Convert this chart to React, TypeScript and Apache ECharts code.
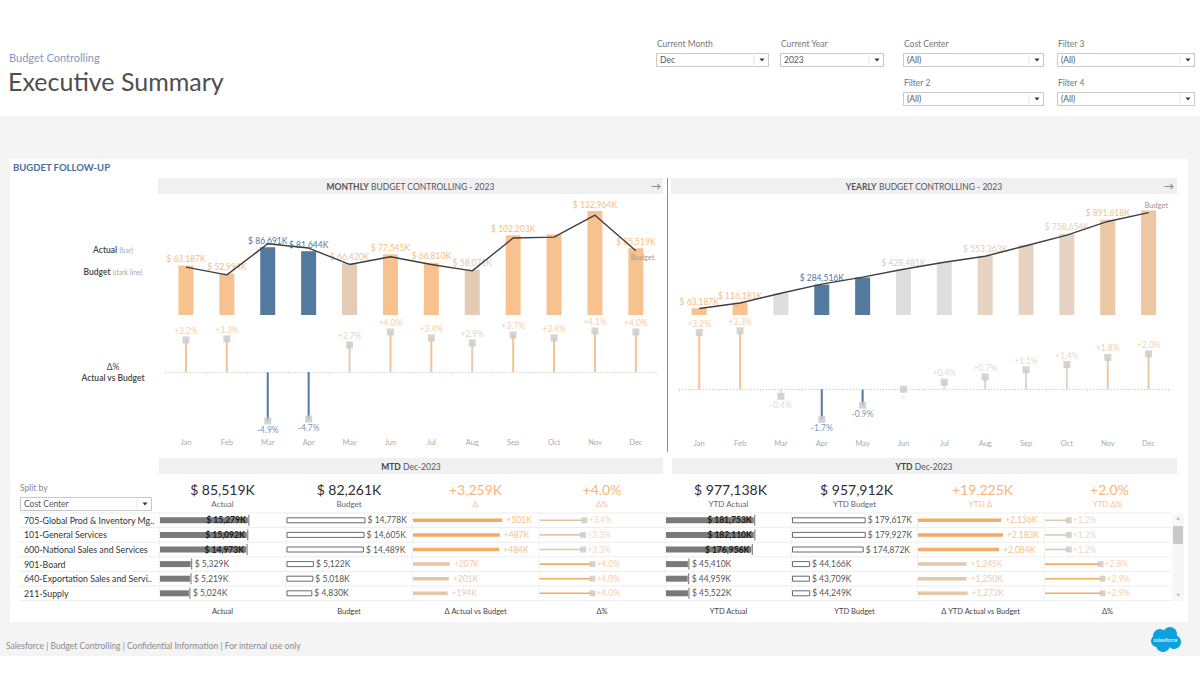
import React, { useEffect, useRef } from "react";
import * as echarts from "echarts";

const FONT = "Lato, 'Open Sans', sans-serif";

const months = ["Jan", "Feb", "Mar", "Apr", "May", "Jun", "Jul", "Aug", "Sep", "Oct", "Nov", "Dec"];
const monthlyActual = [63187, 52994, 86691, 81644, 66420, 77545, 66810, 58071, 102203, 103089, 132964, 85519];
const monthlyBudget = [61228, 51301, 91158, 85670, 64674, 74563, 64613, 56434, 98556, 99699, 127727, 82261];
const monthlyDeltaPct = [3.2, 3.3, -4.9, -4.7, 2.7, 4.0, 3.4, 2.9, 3.7, 3.4, 4.1, 4.0];
const monthlyLabelShown = [true, true, true, true, true, true, true, true, true, false, true, true];

const ytdActual = [63187, 116181, 202872, 284516, 350936, 428481, 495291, 553363, 655566, 758654, 891618, 977138];
const ytdBudget = [61228, 112529, 203687, 289357, 354031, 428594, 493207, 549641, 648197, 747896, 875623, 957912];
const ytdDeltaPct = [3.2, 3.3, -0.4, -1.7, -0.9, 0.0, 0.4, 0.7, 1.1, 1.4, 1.8, 2.0];
const ytdLabelShown = [true, true, false, true, false, true, false, true, false, true, true, false];

const costCenters = [
  "705-Global Prod & Inventory Mg..",
  "101-General Services",
  "600-National Sales and Services",
  "901-Board",
  "640-Exportation Sales and Servi..",
  "211-Supply",
];
const mtdActual = [15279, 15092, 14973, 5329, 5219, 5024];
const mtdBudget = [14778, 14605, 14489, 5122, 5018, 4830];
const mtdDelta = [501, 487, 484, 207, 201, 194];
const mtdDeltaPct = [3.4, 3.3, 3.3, 4.0, 4.0, 4.0];
const ytdCcActual = [181753, 182110, 176956, 45410, 44959, 45522];
const ytdCcBudget = [179617, 179927, 174872, 44166, 43709, 44249];
const ytdCcDelta = [2136, 2183, 2084, 1245, 1250, 1273];
const ytdCcDeltaPct = [1.2, 1.2, 1.2, 2.8, 2.9, 2.9];

const mtdTotals = [85519, 82261, 3259, 4.0];
const ytdTotals = [977138, 957912, 19225, 2.0];
const mtdKpiLabels = ["Actual", "Budget", "Δ", "Δ%"];
const ytdKpiLabels = ["YTD Actual", "YTD Budget", "YTD Δ", "YTD Δ%"];
const mtdColLabels = ["Actual", "Budget", "Δ Actual vs Budget", "Δ%"];
const ytdColLabels = ["YTD Actual", "YTD Budget", "Δ YTD Actual vs Budget", "Δ%"];

const filters = [
  { label: "Current Month", value: "Dec" },
  { label: "Current Year", value: "2023" },
  { label: "Cost Center", value: "(All)" },
  { label: "Filter 3", value: "(All)" },
  { label: "Filter 2", value: "(All)" },
  { label: "Filter 4", value: "(All)" },
];

// ---------- formatting & colours ----------
const fmtK = (v: number) => "$ " + v.toLocaleString("en-US") + "K";
const fmtDK = (v: number) => (v > 0 ? "+" : "") + v.toLocaleString("en-US") + "K";
const fmtPct = (v: number) => (v === 0 ? "=" : (v > 0 ? "+" : "") + v.toFixed(1) + "%");

const BLUE = "#53799F";
const ORANGE = "#F8C28F";
function monthlyBarColor(d: number) {
  if (d < 0) return BLUE;
  if (d < 3) return "#E4CCB4";
  return ORANGE;
}
function monthlyLabelColor(d: number) {
  if (d < 0) return "#4F78A3";
  if (d < 3) return "#E2C6AA";
  return "#F7BC84";
}
function yearlyBarColor(d: number) {
  if (d <= -0.5) return BLUE;
  if (d < 0.5) return "#DEDEDE";
  if (d < 1.5) return "#E6D3C1";
  if (d < 3) return "#EDC7A3";
  return ORANGE;
}
function yearlyLabelColor(d: number) {
  if (d <= -0.5) return "#4F78A3";
  if (d < 0.5) return "#CFCFCF";
  if (d < 1.5) return "#E6CCB4";
  if (d < 3) return "#EDC29A";
  return "#F7BC84";
}
function hex(c: string) {
  return [1, 3, 5].map((i) => parseInt(c.slice(i, i + 2), 16));
}
function lerpColor(a: string, b: string, t: number) {
  const A = hex(a), B = hex(b);
  const r = A.map((x, i) => Math.round(x + (B[i] - x) * t));
  return "rgb(" + r.join(",") + ")";
}
function relT(values: number[], v: number) {
  const mn = Math.min(...values), mx = Math.max(...values);
  return mx === mn ? 1 : (v - mn) / (mx - mn);
}

// ---------- layout ----------
const MONTHLY_X = { left: 165.5, width: 490.8 };
const YEARLY_X = { left: 678.8, width: 490.2 };
const TABLE_TOP = 513;
const ROW_H = 14.6;
const MTD_COLS = [160, 286.5, 413, 539.5];
const YTD_COLS = [666, 792, 918, 1045];
const COL_W = 123;

function App() {
  const ref = useRef<HTMLDivElement>(null);

  useEffect(() => {
    if (!ref.current) return;
    const chart = echarts.init(ref.current, undefined, { renderer: "svg" });

    const txt = (x: number, y: number, text: string, o: any = {}) => ({
      type: "text",
      x,
      y,
      silent: true,
      z: o.z ?? 10,
      style: {
        text,
        fontFamily: FONT,
        fontSize: o.size ?? 9,
        fontWeight: o.weight ?? "normal",
        fill: o.color ?? "#555",
        textAlign: o.align ?? "left",
        textVerticalAlign: "middle",
        rich: o.rich,
      },
    });
    const rect = (x: number, y: number, w: number, h: number, fill: string, stroke?: string, z = 1) => ({
      type: "rect",
      silent: true,
      z,
      shape: { x, y, width: w, height: h },
      style: { fill, stroke: stroke ?? "none", lineWidth: 1 },
    });
    const line = (x1: number, y1: number, x2: number, y2: number, stroke: string, dash?: number[], z = 2) => ({
      type: "line",
      silent: true,
      z,
      shape: { x1, y1, x2, y2 },
      style: { stroke, lineWidth: 1, lineDash: dash },
    });
    const tri = (cx: number, cy: number) => ({
      type: "polygon",
      silent: true,
      z: 11,
      shape: { points: [[cx - 2.5, cy - 1.5], [cx + 2.5, cy - 1.5], [cx, cy + 1.5]] },
      style: { fill: "#333" },
    });
    const dropdown = (x: number, y: number, w: number, value: string) => [
      rect(x + 0.5, y + 0.5, w, 13, "#fff", "#C8C8C8", 5),
      txt(x + 4, y + 7, value, { size: 8.5, color: "#555" }),
      line(x + w - 14, y + 2, x + w - 14, y + 12, "#e6e6e6", undefined, 6),
      tri(x + w - 6, y + 7),
    ];

    const filterPos = [
      { x: 656, y: 53, w: 112, ly: 44 },
      { x: 780, y: 53, w: 103, ly: 44 },
      { x: 903, y: 53, w: 140, ly: 44 },
      { x: 1057, y: 53, w: 137, ly: 44 },
      { x: 903, y: 92, w: 140, ly: 83 },
      { x: 1057, y: 92, w: 137, ly: 83 },
    ];

    const graphics: any[] = [
      rect(0, 116, 1200, 540, "#F4F4F4", undefined, -20),
      rect(10, 159, 1178, 463, "#FFFFFF", undefined, -19),
      txt(9, 57.5, "Budget Controlling", { size: 11, color: "#7B9CC3" }),
      txt(8, 81, "Executive Summary", { size: 25, color: "#4F4F4F" }),
      txt(13, 167, "BUGDET FOLLOW-UP", { size: 9.5, weight: "bold", color: "#4A6F9A" }),
      // left legends
      txt(113, 250, "{a|Actual} {b|(bar)}", {
        align: "center",
        rich: {
          a: { fontSize: 8.5, fontFamily: FONT, fill: "#444", fontWeight: 600 },
          b: { fontSize: 7, fontFamily: FONT, fill: "#AAA" },
        },
      }),
      txt(113, 271.5, "{a|Budget} {b|(dark line)}", {
        align: "center",
        rich: {
          a: { fontSize: 8.5, fontFamily: FONT, fill: "#444", fontWeight: 600 },
          b: { fontSize: 7, fontFamily: FONT, fill: "#AAA" },
        },
      }),
      txt(113, 366.5, "Δ%", { size: 8.5, color: "#444", align: "center" }),
      txt(113, 377.5, "Actual vs Budget", { size: 8.5, color: "#444", align: "center", weight: 600 }),
      // chart headers
      rect(158, 178, 505, 16, "#F0F0F0"),
      txt(410.5, 186.5, "{b|MONTHLY} BUDGET CONTROLLING - 2023", {
        align: "center",
        size: 8.5,
        color: "#555",
        rich: { b: { fontSize: 8.5, fontFamily: FONT, fill: "#555", fontWeight: "bold" } },
      }),
      txt(656, 186, "→", { size: 10, color: "#777", align: "center" }),
      rect(671, 178, 506, 16, "#F0F0F0"),
      txt(924, 186.5, "{b|YEARLY} BUDGET CONTROLLING - 2023", {
        align: "center",
        size: 8.5,
        color: "#555",
        rich: { b: { fontSize: 8.5, fontFamily: FONT, fill: "#555", fontWeight: "bold" } },
      }),
      txt(1169, 186, "→", { size: 10, color: "#777", align: "center" }),
      line(667.5, 178, 667.5, 452, "#8C8C8C"),
      // MTD / YTD headers
      rect(159, 458, 504, 16, "#F0F0F0"),
      txt(411, 466.5, "{b|MTD} Dec-2023", {
        align: "center",
        size: 8.5,
        color: "#555",
        rich: { b: { fontSize: 8.5, fontFamily: FONT, fill: "#444", fontWeight: "bold" } },
      }),
      rect(672, 458, 505, 16, "#F0F0F0"),
      txt(924, 466.5, "{b|YTD} Dec-2023", {
        align: "center",
        size: 8.5,
        color: "#555",
        rich: { b: { fontSize: 8.5, fontFamily: FONT, fill: "#444", fontWeight: "bold" } },
      }),
      // split by
      txt(20, 488, "Split by", { size: 8.5, color: "#888" }),
      ...dropdown(20, 497, 131, "Cost Center"),
      // scrollbar
      rect(1172, 514, 12, 87, "#F7F7F7"),
      rect(1173, 526, 10, 18, "#C9C9C9"),
      txt(1178, 520, "˄", { size: 8, color: "#777", align: "center" }),
      txt(1178, 596, "˅", { size: 8, color: "#777", align: "center" }),
      // footer
      txt(6, 645.5, "Salesforce | Budget Controlling | Confidential Information | For internal use only", {
        size: 8.5,
        color: "#8A8A8A",
      }),
      // salesforce logo (cloud)
      { type: "circle", silent: true, z: 5, shape: { cx: 1160, cy: 636, r: 7 }, style: { fill: "#0DA1DD" } },
      { type: "circle", silent: true, z: 5, shape: { cx: 1170, cy: 634, r: 7 }, style: { fill: "#0DA1DD" } },
      { type: "circle", silent: true, z: 5, shape: { cx: 1174, cy: 642, r: 7 }, style: { fill: "#0DA1DD" } },
      { type: "circle", silent: true, z: 5, shape: { cx: 1163, cy: 645, r: 7 }, style: { fill: "#0DA1DD" } },
      { type: "circle", silent: true, z: 5, shape: { cx: 1157, cy: 641, r: 6 }, style: { fill: "#0DA1DD" } },
      txt(1165.5, 640, "salesforce", { size: 5.5, color: "#FFFFFF", align: "center", z: 6 }),
    ];

    filters.forEach((f, i) => {
      const p = filterPos[i];
      graphics.push(txt(p.x + 1, p.ly, f.label, { size: 8.5, color: "#777" }));
      graphics.push(...dropdown(p.x, p.y, p.w, f.value));
    });

    // KPIs
    const kpiCenters = (cols: number[]) => cols.map((c) => c + COL_W / 2 + 1);
    kpiCenters(MTD_COLS).forEach((cx, i) => {
      const v = mtdTotals[i];
      const isDelta = i >= 2;
      const label = i === 0 || i === 1 ? fmtK(v) : i === 2 ? fmtDK(v) : fmtPct(v);
      graphics.push(txt(cx, 489, label, { size: 14, color: isDelta ? "#F6B679" : "#2E2E2E", align: "center" }));
      graphics.push(txt(cx, 504, mtdKpiLabels[i], { size: 8, color: isDelta ? "#F4C193" : "#666", align: "center" }));
      graphics.push(txt(cx, 611.5, mtdColLabels[i], { size: 7.5, color: "#444", align: "center" }));
    });
    kpiCenters(YTD_COLS).forEach((cx, i) => {
      const v = ytdTotals[i];
      const isDelta = i >= 2;
      const label = i === 0 || i === 1 ? fmtK(v) : i === 2 ? fmtDK(v) : fmtPct(v);
      graphics.push(txt(cx + 2, 489, label, { size: 14, color: isDelta ? "#F6B679" : "#2E2E2E", align: "center" }));
      graphics.push(txt(cx, 504, ytdKpiLabels[i], { size: 8, color: isDelta ? "#F4C193" : "#666", align: "center" }));
      graphics.push(txt(cx, 611.5, ytdColLabels[i], { size: 7.5, color: "#444", align: "center" }));
    });

    // table grid lines
    for (let i = 0; i <= costCenters.length; i++) {
      const y = TABLE_TOP + i * ROW_H;
      graphics.push(line(19, y, 1171, y, "#EDEDED", undefined, 0));
    }
    [...MTD_COLS, ...YTD_COLS].forEach((x) => {
      graphics.push(line(x - 0.5, TABLE_TOP, x - 0.5, TABLE_TOP + ROW_H * costCenters.length, "#E2E2E2", [1, 2], 0));
    });

    // ---------- grids & axes ----------
    const grids: any[] = [
      { left: MONTHLY_X.left, width: MONTHLY_X.width, top: 190, height: 125 },
      { left: MONTHLY_X.left, width: MONTHLY_X.width, top: 312, height: 120 },
      { left: YEARLY_X.left, width: YEARLY_X.width, top: 190, height: 125 },
      { left: YEARLY_X.left, width: YEARLY_X.width, top: 318.5, height: 115 },
      ...MTD_COLS.map((l) => ({ left: l, width: COL_W, top: TABLE_TOP, height: ROW_H * costCenters.length })),
      ...YTD_COLS.map((l) => ({ left: l, width: COL_W, top: TABLE_TOP, height: ROW_H * costCenters.length })),
    ];

    const hiddenCat = (gi: number) => ({
      type: "category",
      gridIndex: gi,
      data: months,
      show: false,
    });
    const monthAxis = (gi: number) => ({
      type: "category",
      gridIndex: gi,
      data: months,
      axisLine: { show: false },
      axisTick: { show: true, length: 3, lineStyle: { color: "#EEEEEE" } },
      axisLabel: { color: "#ABABAB", fontSize: 7.5, fontFamily: FONT, margin: 6 },
    });
    const valAxis = (gi: number, min: number, max: number) => ({
      type: "value",
      gridIndex: gi,
      min,
      max,
      show: false,
      splitLine: { show: false },
    });
    const tableMax = [21400, 23000, 690, 9.3, 255000, 300000, 3160, 6.2];

    const xAxes: any[] = [
      hiddenCat(0),
      monthAxis(1),
      hiddenCat(2),
      monthAxis(3),
      ...tableMax.map((m, i) => valAxis(4 + i, 0, m)),
    ];
    const yAxes: any[] = [
      valAxis(0, 0, 160000),
      valAxis(1, -6, 6),
      valAxis(2, 0, 1170000),
      valAxis(3, -2.5, 4),
      ...tableMax.map((_, i) => ({
        type: "category",
        gridIndex: 4 + i,
        data: costCenters,
        inverse: true,
        show: i === 0,
        axisLine: { show: false },
        axisTick: { show: false },
        axisLabel: {
          show: i === 0,
          align: "left",
          margin: 136,
          color: "#333",
          fontSize: 8.8,
          fontFamily: FONT,
        },
      })),
    ];

    // ---------- series ----------
    const series: any[] = [];
    const valueLabel = { fontFamily: FONT, fontSize: 8.5 };

    // monthly bars
    series.push({
      type: "bar",
      xAxisIndex: 0,
      yAxisIndex: 0,
      barWidth: 15,
      data: monthlyActual.map((v, i) => ({
        value: v,
        itemStyle: { color: monthlyBarColor(monthlyDeltaPct[i]) },
        label: {
          show: monthlyLabelShown[i],
          position: "top",
          distance: 2,
          color: monthlyLabelColor(monthlyDeltaPct[i]),
          ...valueLabel,
          formatter: () => fmtK(v),
        },
      })),
    });
    series.push({
      type: "line",
      xAxisIndex: 0,
      yAxisIndex: 0,
      data: monthlyBudget,
      symbol: "none",
      lineStyle: { color: "#3F3F3F", width: 1.4 },
      z: 5,
      endLabel: { show: true, formatter: "Budget", color: "#999", fontSize: 7.5, fontFamily: FONT, offset: [-13, 7] },
    });
    // monthly lollipop
    series.push({
      type: "bar",
      xAxisIndex: 1,
      yAxisIndex: 1,
      barWidth: 2,
      data: monthlyDeltaPct.map((d) => ({ value: d, itemStyle: { color: monthlyBarColor(d) } })),
    });
    series.push({
      type: "scatter",
      xAxisIndex: 1,
      yAxisIndex: 1,
      symbol: "rect",
      symbolSize: 7,
      itemStyle: { color: "#C9C9C9" },
      z: 4,
      data: monthlyDeltaPct.map((d) => ({
        value: d,
        label: {
          show: true,
          position: d > 0 ? "top" : "bottom",
          distance: 1,
          color: monthlyLabelColor(d),
          ...valueLabel,
          formatter: () => fmtPct(d),
        },
      })),
      markLine: {
        silent: true,
        symbol: "none",
        label: { show: false },
        lineStyle: { color: "#BDBDBD", type: [1, 2], width: 1 },
        data: [{ yAxis: 0 }],
      },
    });

    // yearly bars
    series.push({
      type: "bar",
      xAxisIndex: 2,
      yAxisIndex: 2,
      barWidth: 15,
      data: ytdActual.map((v, i) => ({
        value: v,
        itemStyle: { color: yearlyBarColor(ytdDeltaPct[i]) },
        label: {
          show: ytdLabelShown[i],
          position: "top",
          distance: 2,
          color: yearlyLabelColor(ytdDeltaPct[i]),
          ...valueLabel,
          formatter: () => fmtK(v),
        },
      })),
    });
    series.push({
      type: "line",
      xAxisIndex: 2,
      yAxisIndex: 2,
      data: ytdBudget,
      symbol: "none",
      lineStyle: { color: "#3F3F3F", width: 1.4 },
      z: 5,
      endLabel: { show: true, formatter: "Budget", color: "#999", fontSize: 7.5, fontFamily: FONT, offset: [-12, -7] },
    });
    series.push({
      type: "bar",
      xAxisIndex: 3,
      yAxisIndex: 3,
      barWidth: 2,
      data: ytdDeltaPct.map((d) => ({ value: d, itemStyle: { color: yearlyBarColor(d) } })),
    });
    series.push({
      type: "scatter",
      xAxisIndex: 3,
      yAxisIndex: 3,
      symbol: "rect",
      symbolSize: 7,
      itemStyle: { color: "#C9C9C9" },
      z: 4,
      data: ytdDeltaPct.map((d) => ({
        value: d,
        label: {
          show: true,
          position: d > 0 ? "top" : "bottom",
          distance: 1,
          color: yearlyLabelColor(d),
          ...valueLabel,
          formatter: () => fmtPct(d),
        },
      })),
      markLine: {
        silent: true,
        symbol: "none",
        label: { show: false },
        lineStyle: { color: "#BDBDBD", type: [1, 2], width: 1 },
        data: [{ yAxis: 0 }],
      },
    });

    // ---------- table ----------
    const addTable = (base: number, act: number[], bud: number[], dlt: number[], pct: number[]) => {
      const actMax = tableMax[base - 4];
      series.push({
        type: "bar",
        xAxisIndex: base,
        yAxisIndex: base,
        barWidth: 6,
        itemStyle: { color: "#7A7A7A" },
        data: act.map((v) => {
          const inside = v / actMax > 0.5;
          return {
            value: v,
            label: {
              show: true,
              position: inside ? "insideRight" : "right",
              distance: inside ? 2 : 4,
              color: inside ? "#1E1E1E" : "#555",
              fontWeight: inside ? "bold" : "normal",
              ...valueLabel,
              formatter: () => fmtK(v),
            },
          };
        }),
      });
      series.push({
        type: "scatter",
        xAxisIndex: base,
        yAxisIndex: base,
        symbol: "rect",
        symbolSize: [1.2, 11],
        symbolOffset: [1, 0],
        itemStyle: { color: "#666" },
        silent: true,
        data: act.map((v, i) => [v, i]),
      });
      series.push({
        type: "bar",
        xAxisIndex: base + 1,
        yAxisIndex: base + 1,
        barWidth: 6,
        itemStyle: { color: "#FFFFFF", borderColor: "#6A6A6A", borderWidth: 1 },
        label: { show: true, position: "right", distance: 2, color: "#555", ...valueLabel, formatter: (p: any) => fmtK(p.value) },
        data: bud,
      });
      series.push({
        type: "bar",
        xAxisIndex: base + 2,
        yAxisIndex: base + 2,
        barWidth: 3.5,
        data: dlt.map((v) => {
          const t = relT(dlt, v);
          return {
            value: v,
            itemStyle: { color: lerpColor("#E3C7AA", "#F5AA62", t) },
            label: {
              show: true,
              position: "right",
              distance: 4,
              color: lerpColor("#EACCB0", "#F7BE88", t),
              ...valueLabel,
              formatter: () => fmtDK(v),
            },
          };
        }),
      });
      series.push({
        type: "bar",
        xAxisIndex: base + 3,
        yAxisIndex: base + 3,
        barWidth: 1.6,
        data: pct.map((v) => ({ value: v, itemStyle: { color: lerpColor("#E3C7AA", "#F5AA62", relT(pct, v)) } })),
      });
      series.push({
        type: "scatter",
        xAxisIndex: base + 3,
        yAxisIndex: base + 3,
        symbol: "rect",
        symbolSize: 6,
        itemStyle: { color: "#C9C9C9" },
        data: pct.map((v, i) => ({
          value: [v, i],
          label: {
            show: true,
            position: "right",
            distance: 1,
            color: lerpColor("#EACCB0", "#F7BE88", relT(pct, v)),
            ...valueLabel,
            formatter: () => fmtPct(v),
          },
        })),
      });
    };
    addTable(4, mtdActual, mtdBudget, mtdDelta, mtdDeltaPct);
    addTable(8, ytdCcActual, ytdCcBudget, ytdCcDelta, ytdCcDeltaPct);

    chart.setOption({
      animation: false,
      backgroundColor: "#FFFFFF",
      textStyle: { fontFamily: FONT },
      grid: grids,
      xAxis: xAxes,
      yAxis: yAxes,
      series,
      graphic: { elements: graphics },
    });

    return () => chart.dispose();
  }, []);

  return (
    <div
      ref={ref}
      style={{ position: "absolute", left: 0, top: 0, width: 1200, height: 680 }}
    />
  );
}

export default App;
